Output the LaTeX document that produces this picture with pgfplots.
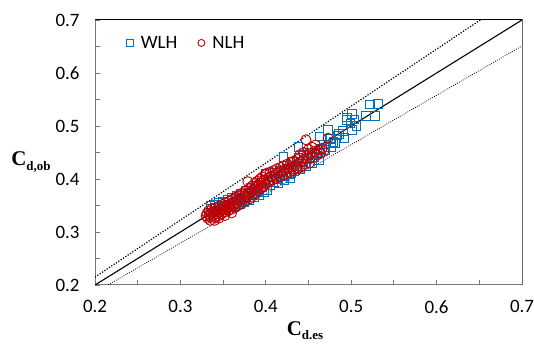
\documentclass[border=0pt]{standalone}
\usepackage{pgfplots}
\pgfplotsset{compat=1.18}
\usepackage{fontspec}
\setmainfont{Carlito}
\newfontfamily\tnr{Liberation Serif}
\definecolor{wlh}{RGB}{0,112,192}
\definecolor{nlh}{RGB}{192,0,0}
\definecolor{axgray}{RGB}{120,120,120}
\begin{document}
\begin{tikzpicture}
\path[use as bounding box] (0bp,0bp) rectangle (534bp,347bp);
\begin{axis}[
  at={(95bp,62bp)}, anchor=south west,
  width=427bp, height=265bp, scale only axis,
  xmin=0.2, xmax=0.7, ymin=0.2, ymax=0.7,
  xtick={0.2,0.25,...,0.71}, ytick={0.2,0.25,...,0.71},
  xticklabels={0.2,,0.3,,0.4,,0.5,,0.6,,0.7},
  yticklabels={0.2,,0.3,,0.4,,0.5,,0.6,,0.7},
  tick label style={font=\fontsize{19}{22}\selectfont},
  xticklabel style={yshift=-12bp},
  yticklabel style={xshift=-12bp},
  tick align=inside,
  major tick length=5bp,
  every tick/.style={axgray, line width=0.9bp},
  tick pos=left,
  axis line style={axgray, line width=1bp},
  legend style={at={(rel axis cs:0.06,0.955)}, anchor=north west, draw=none, fill=none,
    font=\fontsize{19}{22}\selectfont, legend columns=2,
    /tikz/every even column/.append style={column sep=16bp}},
  legend image code/.code={\path[draw=none] (-6bp,0bp) -- (9bp,0bp); \draw[mark size=3.5bp,#1] plot coordinates {(0bp,0bp)};},
  legend cell align=left,
]
\addplot[only marks, mark=square, mark size=4.3bp, draw=wlh, line width=0.9bp] coordinates {
(0.333,0.337)(0.335,0.350)(0.336,0.343)(0.338,0.333)(0.340,0.352)(0.341,0.345)(0.343,0.338)
(0.345,0.355)(0.346,0.348)(0.348,0.342)(0.350,0.358)(0.352,0.350)(0.353,0.343)(0.355,0.360)
(0.357,0.352)(0.358,0.346)(0.360,0.364)(0.362,0.355)(0.364,0.349)(0.366,0.368)(0.368,0.360)
(0.370,0.353)(0.371,0.372)(0.373,0.364)(0.375,0.357)(0.377,0.378)(0.379,0.369)(0.380,0.361)
(0.382,0.383)(0.384,0.374)(0.386,0.366)(0.388,0.388)(0.390,0.378)(0.392,0.370)(0.394,0.392)
(0.396,0.384)(0.398,0.376)(0.400,0.410)(0.401,0.379)(0.403,0.398)(0.405,0.389)(0.407,0.404)
(0.409,0.394)(0.411,0.412)(0.413,0.400)(0.415,0.392)(0.418,0.415)(0.420,0.405)(0.422,0.397)
(0.425,0.420)(0.427,0.410)(0.429,0.402)(0.431,0.433)(0.433,0.415)(0.436,0.425)(0.438,0.440)
(0.440,0.418)(0.442,0.432)(0.445,0.445)(0.447,0.424)(0.449,0.438)(0.452,0.450)(0.454,0.430)
(0.457,0.442)(0.460,0.448)(0.462,0.435)(0.463,0.480)(0.464,0.457)(0.468,0.465)(0.473,0.492)
(0.475,0.476)(0.476,0.460)(0.479,0.470)(0.481,0.467)(0.484,0.482)(0.486,0.485)(0.490,0.491)
(0.492,0.477)(0.495,0.511)(0.495,0.516)(0.499,0.505)(0.501,0.523)(0.501,0.493)(0.504,0.512)
(0.506,0.500)(0.517,0.519)(0.522,0.541)(0.528,0.519)(0.531,0.542)(0.430,0.411)(0.4205,0.442)
(0.438,0.461)(0.462,0.435)(0.470,0.455)(0.476,0.475)
};
\addlegendentry{WLH}
\addplot[only marks, mark=o, mark size=5bp, draw=nlh, line width=0.9bp] coordinates {
(0.330,0.330)(0.331,0.335)(0.332,0.326)(0.333,0.340)(0.334,0.332)(0.335,0.328)(0.336,0.337)
(0.337,0.344)(0.338,0.331)(0.339,0.339)(0.340,0.327)(0.341,0.346)(0.342,0.335)(0.343,0.341)
(0.344,0.330)(0.345,0.349)(0.346,0.338)(0.347,0.344)(0.348,0.334)(0.349,0.352)(0.350,0.341)
(0.351,0.347)(0.352,0.338)(0.353,0.355)(0.354,0.344)(0.355,0.350)(0.356,0.340)(0.357,0.358)
(0.358,0.347)(0.359,0.353)(0.360,0.343)(0.361,0.362)(0.362,0.350)(0.363,0.357)(0.364,0.346)
(0.365,0.366)(0.366,0.355)(0.367,0.361)(0.368,0.350)(0.369,0.370)(0.370,0.359)(0.371,0.365)
(0.372,0.354)(0.373,0.374)(0.374,0.362)(0.375,0.369)(0.376,0.358)(0.377,0.378)(0.378,0.366)
(0.379,0.395)(0.380,0.372)(0.381,0.382)(0.382,0.363)(0.383,0.376)(0.384,0.387)(0.385,0.370)
(0.386,0.380)(0.387,0.392)(0.388,0.374)(0.389,0.385)(0.390,0.396)(0.391,0.378)(0.392,0.389)
(0.393,0.400)(0.394,0.382)(0.395,0.393)(0.396,0.404)(0.397,0.386)(0.398,0.397)(0.399,0.408)
(0.400,0.390)(0.401,0.411)(0.402,0.401)(0.404,0.394)(0.405,0.413)(0.406,0.405)(0.408,0.398)
(0.409,0.416)(0.410,0.408)(0.412,0.401)(0.413,0.419)(0.414,0.411)(0.416,0.404)(0.417,0.422)
(0.418,0.414)(0.420,0.407)(0.421,0.425)(0.422,0.417)(0.424,0.410)(0.425,0.428)(0.426,0.420)
(0.428,0.413)(0.429,0.431)(0.430,0.423)(0.432,0.416)(0.433,0.434)(0.434,0.426)(0.436,0.420)
(0.437,0.437)(0.438,0.429)(0.440,0.446)(0.441,0.432)(0.442,0.423)(0.444,0.450)(0.445,0.438)
(0.446,0.428)(0.447,0.474)(0.448,0.444)(0.450,0.456)(0.451,0.430)(0.452,0.448)(0.454,0.460)
(0.455,0.440)(0.457,0.452)(0.458,0.464)(0.460,0.445)(0.462,0.455)(0.464,0.448)(0.466,0.458)
(0.468,0.452)(0.473,0.477)(0.438,0.420)(0.335,0.322)(0.340,0.322)(0.345,0.326)(0.352,0.331)
(0.360,0.336)
};
\addlegendentry{NLH}
\addplot[forget plot, black, line width=1.1bp] coordinates {(0.2,0.2)(0.7,0.7)};
\addplot[forget plot, black, line width=1.2bp, dash pattern=on 1.2bp off 1.6bp] coordinates {(0.2,0.215)(0.7,0.7525)};
\addplot[forget plot, black, line width=0.8bp, dash pattern=on 0.8bp off 1.4bp] coordinates {(0.2,0.186)(0.7,0.651)};
\pgfplotsinvokeforeach{0.25,0.3,0.35,0.4,0.45,0.5,0.55,0.6,0.65}{
  \draw[axgray, line width=0.9bp] (axis cs:#1,0.2) -- ++(0bp,5bp);
  \draw[axgray, line width=0.9bp] (axis cs:0.2,#1) -- ++(5bp,0bp);
}
\draw[black, line width=1bp] (rel axis cs:0,1) -- (rel axis cs:1,1) -- (rel axis cs:1,0);
\end{axis}
\node at (31bp,185bp) {\tnr\bfseries\fontsize{21}{24}\selectfont C\raisebox{-0.45ex}{\fontsize{13}{15}\selectfont d,ob}};
\node at (305bp,16bp) {\tnr\bfseries\fontsize{21}{24}\selectfont C\raisebox{-0.45ex}{\fontsize{13}{15}\selectfont d.es}};
\end{tikzpicture}
\end{document}
